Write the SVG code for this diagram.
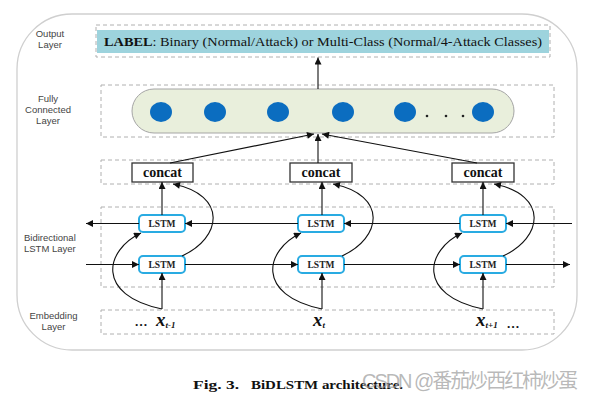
<svg xmlns="http://www.w3.org/2000/svg" width="593" height="401" viewBox="0 0 593 401">
<defs>
<style>
.dash{fill:none;stroke:#b0b0b0;stroke-width:1;stroke-dasharray:4 3}
.side{font-family:"Liberation Sans","DejaVu Sans",sans-serif;font-size:9.5px;fill:#444}
.lstm rect{fill:#fff;stroke:#29abe2;stroke-width:2}
.lstm text{font-family:"Liberation Serif",serif;font-weight:bold;font-size:9.5px;fill:#222;text-anchor:middle}
.concat rect{fill:#fff;stroke:#333;stroke-width:1.3}
.concat text{font-family:"Liberation Serif",serif;font-weight:bold;font-size:14px;fill:#111;text-anchor:middle}
.conn line,.conn path{stroke:#111;stroke-width:1.1;fill:none}
.arr{marker-end:url(#ah)}
.neuron{fill:#0b6dc0}
.inp{font-family:"Liberation Serif",serif;font-weight:bold;font-style:italic;fill:#111}
.cap{font-family:"Liberation Serif",serif;font-weight:bold;font-size:13px;fill:#111}
</style>
<marker id="ah" viewBox="0 0 10 10" refX="10" refY="5" markerWidth="9" markerHeight="7" markerUnits="userSpaceOnUse" orient="auto">
<path d="M0,0 L10,5 L0,10 z" fill="#111"/>
</marker>
</defs>
<rect width="593" height="401" fill="#fff"/>
<rect id="frame" x="17" y="14" width="560" height="336" rx="55" ry="55" fill="none" stroke="#cfcfcf" stroke-width="1.3"/>

<g id="layer-labels">
<text class="side" x="50" y="37" text-anchor="middle">Output</text>
<text class="side" x="50" y="48" text-anchor="middle">Layer</text>
<text class="side" x="48" y="102" text-anchor="middle">Fully</text>
<text class="side" x="48" y="113" text-anchor="middle">Connected</text>
<text class="side" x="48" y="124" text-anchor="middle">Layer</text>
<text class="side" x="24" y="241">Bidirectional</text>
<text class="side" x="24" y="252">LSTM Layer</text>
<text class="side" x="53.5" y="319" text-anchor="middle">Embedding</text>
<text class="side" x="53.5" y="330" text-anchor="middle">Layer</text>
</g>

<g id="layer-boxes">
<rect class="dash" x="96" y="25" width="454" height="32"/>
<rect class="dash" x="101" y="85" width="453" height="52"/>
<rect class="dash" x="101" y="160" width="453" height="24"/>
<rect class="dash" x="101" y="207" width="453" height="80"/>
<rect class="dash" x="101" y="310" width="453" height="24"/>
</g>

<g id="output">
<rect x="97" y="30" width="452" height="23" fill="#9dd3dd"/>
<text x="104" y="46" font-family="Liberation Serif,serif" font-size="12.5px" fill="#111" textLength="438" lengthAdjust="spacingAndGlyphs"><tspan font-weight="bold">LABEL</tspan>: Binary (Normal/Attack) or Multi-Class (Normal/4-Attack Classes)</text>
</g>

<g id="fully-connected">
<rect x="132" y="89" width="382" height="44" rx="22" ry="22" fill="#e9efdc" stroke="#a5a5a5" stroke-width="1"/>
<ellipse class="neuron" cx="161" cy="112" rx="11" ry="10"/>
<ellipse class="neuron" cx="215" cy="112" rx="11" ry="10"/>
<ellipse class="neuron" cx="278" cy="112" rx="11" ry="10"/>
<ellipse class="neuron" cx="343" cy="112" rx="11" ry="10"/>
<ellipse class="neuron" cx="405" cy="112" rx="11" ry="10"/>
<ellipse class="neuron" cx="483" cy="112" rx="11" ry="10"/>
<circle cx="427" cy="116" r="1.3" fill="#222"/>
<circle cx="446" cy="116" r="1.3" fill="#222"/>
<circle cx="463" cy="116" r="1.3" fill="#222"/>
</g>

<g id="concat-1" class="concat"><rect x="132" y="163" width="61" height="19"/><text x="162.5" y="177">concat</text></g>
<g id="concat-2" class="concat"><rect x="290" y="163" width="62" height="19"/><text x="321" y="177">concat</text></g>
<g id="concat-3" class="concat"><rect x="452" y="163" width="62" height="19"/><text x="483" y="177">concat</text></g>

<g id="lstm-b1" class="lstm"><rect x="139" y="215" width="46" height="17" rx="4"/><text x="162" y="227">LSTM</text></g>
<g id="lstm-b2" class="lstm"><rect x="298" y="215" width="46" height="17" rx="4"/><text x="321" y="227">LSTM</text></g>
<g id="lstm-b3" class="lstm"><rect x="460" y="215" width="46" height="17" rx="4"/><text x="483" y="227">LSTM</text></g>
<g id="lstm-f1" class="lstm"><rect x="139" y="256" width="46" height="17" rx="4"/><text x="162" y="268">LSTM</text></g>
<g id="lstm-f2" class="lstm"><rect x="298" y="256" width="46" height="17" rx="4"/><text x="321" y="268">LSTM</text></g>
<g id="lstm-f3" class="lstm"><rect x="460" y="256" width="46" height="17" rx="4"/><text x="483" y="268">LSTM</text></g>

<g id="input-1"><text class="inp" x="135" y="326" font-size="13px" font-style="normal">…</text><text class="inp" x="156" y="326" font-size="19px">x<tspan font-size="9px" dy="2">t-1</tspan></text></g>
<g id="input-2"><text class="inp" x="313" y="326" font-size="19px">x<tspan font-size="9px" dy="2">t</tspan></text></g>
<g id="input-3"><text class="inp" x="476" y="326" font-size="19px">x<tspan font-size="9px" dy="2">t+1</tspan></text><text class="inp" x="507" y="328" font-size="13px" font-style="normal" font-weight="normal">…</text></g>

<g id="connectors" class="conn">
<line class="arr" x1="318" y1="89" x2="318" y2="57.5"/>
<line class="arr" x1="170" y1="163" x2="314" y2="134"/>
<line class="arr" x1="318" y1="163" x2="318" y2="134"/>
<line class="arr" x1="477" y1="163" x2="322" y2="134"/>

<line class="arr" x1="572" y1="223.5" x2="506" y2="223.5"/>
<line class="arr" x1="460" y1="223.5" x2="344" y2="223.5"/>
<line class="arr" x1="298" y1="223.5" x2="185" y2="223.5"/>
<line class="arr" x1="139" y1="223.5" x2="86" y2="223.5"/>

<line x1="86" y1="264.5" x2="139" y2="264.5" class="arr"/>
<line x1="185" y1="264.5" x2="298" y2="264.5" class="arr"/>
<line x1="344" y1="264.5" x2="460" y2="264.5" class="arr"/>
<line x1="506" y1="264.5" x2="570" y2="264.5" class="arr"/>

<line class="arr" x1="162" y1="215" x2="162" y2="182"/>
<line class="arr" x1="322" y1="215" x2="322" y2="182"/>
<line class="arr" x1="483" y1="215" x2="483" y2="182"/>

<line class="arr" x1="162" y1="309" x2="162" y2="273"/>
<line class="arr" x1="322" y1="309" x2="322" y2="273"/>
<line class="arr" x1="483" y1="309" x2="483" y2="273"/>

<path class="arr" d="M162,309 C95,295 105,250 141,233"/>
<path class="arr" d="M322,309 C255,295 265,250 301,233"/>
<path class="arr" d="M483,309 C416,295 426,250 462,233"/>

<path class="arr" d="M182,256 C222,238 228,195 173,184"/>
<path class="arr" d="M342,256 C382,238 388,195 333,184"/>
<path class="arr" d="M503,256 C543,238 549,195 494,184"/>
</g>

<g id="caption">
<text class="cap" x="193" y="389" textLength="46" lengthAdjust="spacingAndGlyphs">Fig. 3.</text>
<text class="cap" x="251" y="389" textLength="152" lengthAdjust="spacingAndGlyphs">BiDLSTM architecture.</text>
</g>
<text id="watermark" x="362" y="388" font-family="Liberation Sans,Noto Sans CJK SC,sans-serif" font-size="20px" fill="#9a9a9a" fill-opacity="0.7" textLength="216">CSDN @番茄炒西红柿炒蛋</text>
</svg>
